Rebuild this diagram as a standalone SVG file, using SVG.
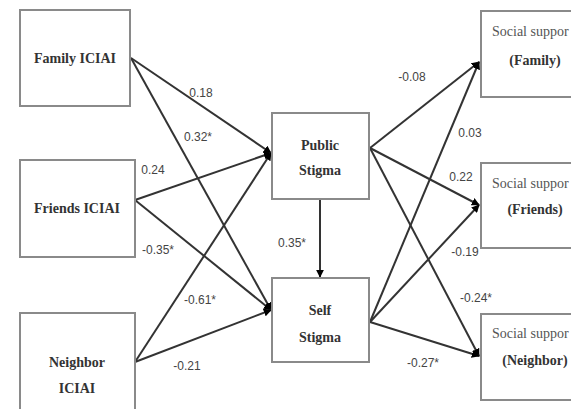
<svg xmlns="http://www.w3.org/2000/svg" width="571" height="409" viewBox="0 0 571 409">
<style>
.box{fill:#fff;stroke:#8a8a8a;stroke-width:2}
.lbl{font-family:"Liberation Serif","Times New Roman",serif;font-weight:bold;font-size:14px;fill:#333;text-anchor:middle}
.reg{font-family:"Liberation Serif","Times New Roman",serif;font-size:14px;fill:#555}
.edge{stroke:#333;stroke-width:2;fill:none;marker-end:url(#ah)}
.el{font-family:"Liberation Sans",Arial,sans-serif;font-size:12px;fill:#444;text-anchor:middle}
</style>
<defs>
<marker id="ah" viewBox="0 0 10 10" refX="9" refY="5" markerWidth="4" markerHeight="4" orient="auto" markerUnits="strokeWidth">
<path d="M0,0 L10,5 L0,10 z" fill="#000"/>
</marker>
</defs>
<rect width="571" height="409" fill="#fff"/>
<g id="connectors">
<line class="edge" x1="131" y1="58" x2="271" y2="153"/>
<line class="edge" x1="131" y1="58" x2="271" y2="310"/>
<line class="edge" x1="135" y1="200" x2="271" y2="153"/>
<line class="edge" x1="135" y1="200" x2="271" y2="310"/>
<line class="edge" x1="135" y1="362" x2="271" y2="153"/>
<line class="edge" x1="135" y1="362" x2="271" y2="310"/>
<line class="edge" x1="320" y1="200" x2="320" y2="277"/>
<line class="edge" x1="370" y1="148" x2="479" y2="62"/>
<line class="edge" x1="370" y1="148" x2="479" y2="205"/>
<line class="edge" x1="370" y1="148" x2="479" y2="356"/>
<line class="edge" x1="370" y1="322" x2="479" y2="62"/>
<line class="edge" x1="370" y1="322" x2="479" y2="205"/>
<line class="edge" x1="370" y1="322" x2="479" y2="356"/>
<text class="el" x="201" y="97">0.18</text>
<text class="el" x="198" y="141">0.32*</text>
<text class="el" x="153" y="174">0.24</text>
<text class="el" x="158" y="254">-0.35*</text>
<text class="el" x="200" y="304">-0.61*</text>
<text class="el" x="187" y="370">-0.21</text>
<text class="el" x="292" y="247">0.35*</text>
<text class="el" x="412" y="81">-0.08</text>
<text class="el" x="470" y="137">0.03</text>
<text class="el" x="461" y="181">0.22</text>
<text class="el" x="465" y="256">-0.19</text>
<text class="el" x="476" y="302">-0.24*</text>
<text class="el" x="423" y="367">-0.27*</text>
</g>
<g id="family-iciai">
<rect class="box" x="20" y="10" width="110" height="96"/>
<text class="lbl" x="75" y="63">Family ICIAI</text>
</g>
<g id="friends-iciai">
<rect class="box" x="20" y="160" width="115" height="97"/>
<text class="lbl" x="77" y="213">Friends ICIAI</text>
</g>
<g id="neighbor-iciai">
<rect class="box" x="20" y="313" width="115" height="100"/>
<text class="lbl" x="77" y="367">Neighbor</text>
<text class="lbl" x="77" y="393">ICIAI</text>
</g>
<g id="public-stigma">
<rect class="box" x="272" y="113" width="97" height="86"/>
<text class="lbl" x="320" y="150">Public</text>
<text class="lbl" x="320" y="175">Stigma</text>
</g>
<g id="self-stigma">
<rect class="box" x="272" y="278" width="97" height="84"/>
<text class="lbl" x="320" y="315">Self</text>
<text class="lbl" x="320" y="342">Stigma</text>
</g>
<g id="support-family">
<rect class="box" x="481" y="11" width="100" height="86"/>
<text class="reg" x="492" y="36">Social suppor</text>
<text class="lbl" x="535" y="65">(Family)</text>
</g>
<g id="support-friends">
<rect class="box" x="481" y="163" width="100" height="85"/>
<text class="reg" x="492" y="188">Social suppor</text>
<text class="lbl" x="535" y="214">(Friends)</text>
</g>
<g id="support-neighbor">
<rect class="box" x="481" y="314" width="100" height="86"/>
<text class="reg" x="492" y="338">Social suppor</text>
<text class="lbl" x="535" y="365">(Neighbor)</text>
</g>
</svg>
